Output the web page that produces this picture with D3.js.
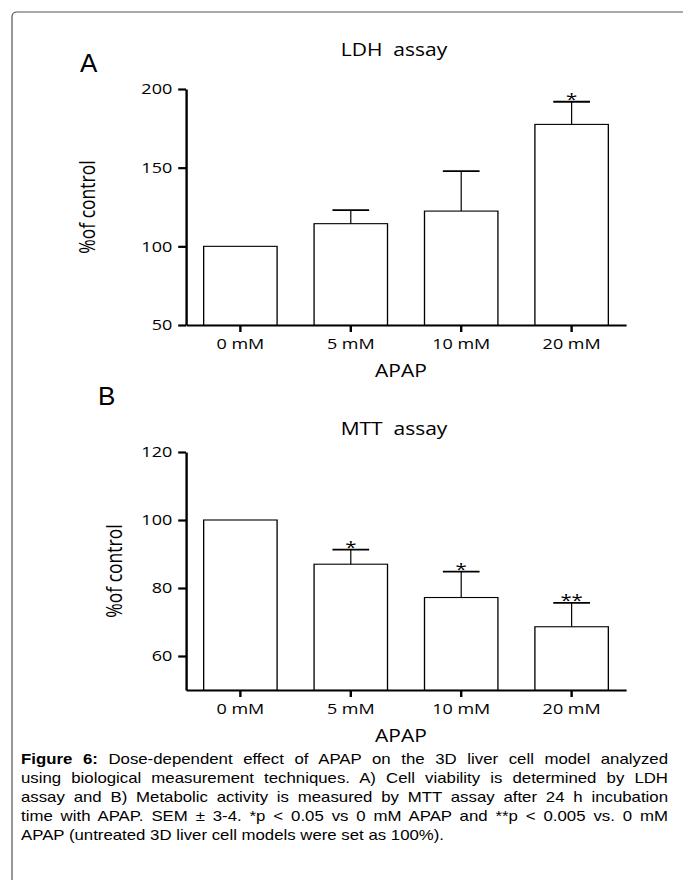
<!DOCTYPE html>
<html lang="en">
<head>
<meta charset="utf-8">
<title>Figure 6</title>
<script src="https://d3js.org/d3.v7.min.js"></script>
<style>
  body { margin: 0; background: #fff; }
  svg text { font-family: "Open Sans", sans-serif; fill: #000; }
  .domain, .tick line { stroke: #000; }
</style>
</head>
<body>
<svg id="fig" width="683" height="880"></svg>
<script>
// data
var doses = ["0 mM", "5 mM", "10 mM", "20 mM"];
var ldhMean = [100, 114.4, 122.4, 177.5];
var ldhSem = [0, 8.6, 25.4, 14.4];
var ldhStars = ["", "", "", "*"];
var ldhTicks = [50, 100, 150, 200];
var mttMean = [100, 87.0, 77.2, 68.6];
var mttSem = [0, 4.3, 7.6, 7.0];
var mttStars = ["", "*", "*", "**"];
var mttTicks = [60, 80, 100, 120];
var captionLines = [
  "Dose-dependent effect of APAP on the 3D liver cell model analyzed",
  "using biological measurement techniques. A) Cell viability is determined by LDH",
  "assay and B) Metabolic activity is measured by MTT assay after 24 h incubation",
  "time with APAP. SEM \u00b1 3-4. *p < 0.05 vs 0 mM APAP and **p < 0.005 vs. 0 mM",
  "APAP (untreated 3D liver cell models were set as 100%)."
];

var svg = d3.select("#fig");
var sx = 1.2; // the original figure is stretched sideways

// frame
svg.append("path")
  .attr("d", "M12,880 V17 Q12,12 17,12 H683")
  .attr("fill", "none").attr("stroke", "#555").attr("stroke-width", 1.2);

function panel(o) {
  var g = svg.append("g").attr("transform", "scale(" + sx + ",1)");

  var x = d3.scaleBand().domain(doses)
    .range([186 / sx, 626 / sx]).paddingInner(0.335).paddingOuter(0.16);
  var y = d3.scaleLinear().domain(o.domain).range([o.bottom, o.top]);

  g.append("g").attr("transform", "translate(0," + o.bottom + ")")
    .call(d3.axisBottom(x).tickSize(7).tickSizeOuter(0).tickPadding(6))
    .call(function(a) {
      a.select(".domain").attr("stroke-width", 2.2);
      a.selectAll(".tick line").attr("stroke-width", 2);
      a.selectAll("text").attr("font-size", 15).attr("font-family", "Open Sans");
    });

  g.append("g").attr("transform", "translate(" + (186 / sx) + ",0)")
    .call(d3.axisLeft(y).tickValues(o.ticks).tickSize(6.5).tickSizeOuter(0).tickPadding(5))
    .call(function(a) {
      a.select(".domain").attr("stroke-width", 2);
      a.selectAll(".tick line").attr("stroke-width", 2.2);
      a.selectAll("text").attr("font-size", 15).attr("font-family", "Open Sans");
    });

  var bw = x.bandwidth();
  var cx = function(d) { return x(d) + bw / 2; };
  g.selectAll(".bar").data(doses).enter().append("rect")
    .attr("x", function(d) { return x(d); })
    .attr("y", function(d, i) { return y(o.mean[i]); })
    .attr("width", bw)
    .attr("height", function(d, i) { return o.bottom - y(o.mean[i]); })
    .attr("fill", "#fff").attr("stroke", "#000").attr("stroke-width", 1.1);

  var top = function(d) { var i = doses.indexOf(d); return y(o.mean[i] + o.sem[i]); };
  var err = g.selectAll(".err").data(doses.filter(function(d, i) { return o.sem[i] > 0; }))
    .enter().append("g");
  err.append("line")
    .attr("x1", cx).attr("x2", cx)
    .attr("y1", function(d) { return y(o.mean[doses.indexOf(d)]); })
    .attr("y2", top)
    .attr("stroke", "#000").attr("stroke-width", 1);
  err.append("line")
    .attr("x1", function(d) { return x(d) + bw / 4; })
    .attr("x2", function(d) { return x(d) + bw * 3 / 4; })
    .attr("y1", top).attr("y2", top)
    .attr("stroke", "#000").attr("stroke-width", 1.8);

  g.selectAll(".star").data(doses).enter().append("text")
    .attr("x", cx)
    .attr("y", function(d) { return top(d) + 3; })
    .attr("text-anchor", "middle").attr("font-size", 17)
    .text(function(d) { return o.stars[doses.indexOf(d)]; });

  var mid = (x(doses[0]) + x(doses[3]) + bw) / 2;
  g.append("text").attr("x", mid - 12 / sx).attr("y", o.titleY)
    .attr("text-anchor", "middle").attr("font-size", 17.5)
    .style("white-space", "pre").text(o.title);
  g.append("text").attr("x", mid - 5 / sx).attr("y", o.bottom + 52)
    .attr("text-anchor", "middle").attr("font-size", 17.5).text("APAP");
  g.append("text")
    .attr("transform", "translate(" + (o.ylabX / sx) + "," + ((o.top + o.bottom) / 2) + ") rotate(-90)")
    .attr("text-anchor", "middle").attr("font-size", 17.5).text("%of control");

  svg.append("text").attr("x", o.letterX).attr("y", o.letterY)
    .style("font-family", "Liberation Sans, Arial, sans-serif")
    .attr("font-size", 26).text(o.letter);
}

panel({ domain: [50, 200], ticks: ldhTicks, top: 89, bottom: 325, mean: ldhMean, sem: ldhSem,
  stars: ldhStars, title: "LDH  assay", titleY: 56, ylabX: 95, letter: "A", letterX: 80, letterY: 72 });
panel({ domain: [50, 120], ticks: mttTicks, top: 452, bottom: 690, mean: mttMean, sem: mttSem,
  stars: mttStars, title: "MTT  assay", titleY: 435, ylabX: 122, letter: "B", letterX: 98, letterY: 405 });

// caption, also stretched, justified between x0 and x1
var x0 = 21, x1 = 668, base = 764, lh = 19;
var cap = svg.append("g").attr("transform", "scale(" + sx + ",1)");
captionLines.forEach(function(line, i) {
  var t = cap.append("text").attr("x", x0 / sx).attr("y", base + i * lh)
    .style("font-family", "Liberation Sans, Arial, sans-serif").attr("font-size", 14)
    .style("white-space", "pre");
  if (i === 0) {
    t.append("tspan").attr("font-weight", "bold").text("Figure 6:");
    t.append("tspan").text(" " + line);
  } else {
    t.text(line);
  }
  if (i < captionLines.length - 1) {
    var full = (i === 0 ? "Figure 6: " + line : line);
    var gaps = full.split(" ").length - 1;
    var w = t.node().getComputedTextLength();
    t.attr("word-spacing", Math.max(0, ((x1 - x0) / sx - w) / gaps));
  }
});
</script>
</body>
</html>
